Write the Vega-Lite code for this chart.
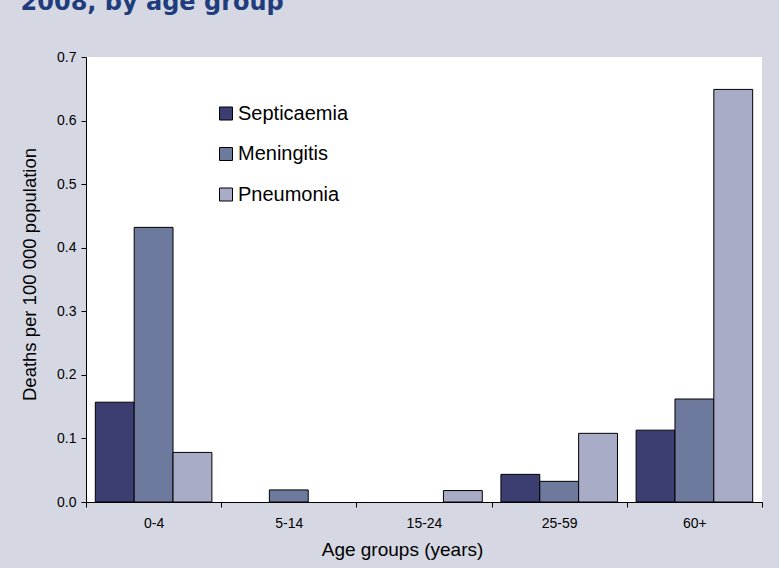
{
  "$schema": "https://vega.github.io/schema/vega-lite/v6.json",
  "width": 676,
  "height": 445,
  "autosize": {"type": "none"},
  "padding": {"left": 86, "top": 57, "right": 17, "bottom": 66},
  "background": "#D5D7E3",
  "title": {
    "text": "2008, by age group",
    "font": "DejaVu Sans",
    "fontWeight": "bold",
    "fontSize": 24,
    "color": "#1F3C7D",
    "anchor": "start",
    "frame": "bounds",
    "baseline": "alphabetic",
    "offset": 16
  },
  "data": {
    "values": [
      {"age": "0-4", "cause": "Septicaemia", "rate": 0.157},
      {"age": "0-4", "cause": "Meningitis", "rate": 0.432},
      {"age": "0-4", "cause": "Pneumonia", "rate": 0.078},
      {"age": "5-14", "cause": "Meningitis", "rate": 0.019},
      {"age": "15-24", "cause": "Pneumonia", "rate": 0.018},
      {"age": "25-59", "cause": "Septicaemia", "rate": 0.0435},
      {"age": "25-59", "cause": "Meningitis", "rate": 0.0325},
      {"age": "25-59", "cause": "Pneumonia", "rate": 0.108},
      {"age": "60+", "cause": "Septicaemia", "rate": 0.113},
      {"age": "60+", "cause": "Meningitis", "rate": 0.162},
      {"age": "60+", "cause": "Pneumonia", "rate": 0.649}
    ]
  },
  "mark": {"type": "bar", "stroke": "black", "strokeWidth": 1},
  "encoding": {
    "x": {
      "field": "age",
      "type": "nominal",
      "sort": ["0-4", "5-14", "15-24", "25-59", "60+"],
      "scale": {"paddingInner": 0, "paddingOuter": 0},
      "axis": {
        "title": "Age groups (years)",
        "labelAngle": 0,
        "tickBand": "extent",
        "labelFontSize": 14,
        "labelFont": "Liberation Sans",
        "labelColor": "black",
        "labelPadding": 9,
        "titleFont": "Liberation Sans",
        "titleFontSize": 19,
        "titleFontWeight": "normal",
        "titleColor": "black",
        "titlePadding": 10,
        "titleX": 316,
        "titleAlign": "center",
        "domainColor": "black",
        "tickColor": "black",
        "tickSize": 5
      }
    },
    "xOffset": {
      "field": "cause",
      "type": "nominal",
      "sort": ["Septicaemia", "Meningitis", "Pneumonia"],
      "scale": {"domain": ["Septicaemia", "Meningitis", "Pneumonia"], "paddingInner": 0, "paddingOuter": 0.24}
    },
    "y": {
      "field": "rate",
      "type": "quantitative",
      "scale": {"domain": [0, 0.7], "nice": false},
      "axis": {
        "title": "Deaths per 100 000 population",
        "values": [0, 0.1, 0.2, 0.3, 0.4, 0.5, 0.6, 0.7],
        "format": ".1f",
        "grid": false,
        "labelFontSize": 14,
        "labelFont": "Liberation Sans",
        "labelColor": "black",
        "labelPadding": 5,
        "titleFont": "Liberation Sans",
        "titleFontSize": 18.5,
        "titleFontWeight": "normal",
        "titleColor": "black",
        "titlePadding": 17,
        "titleY": 217,
        "titleAlign": "center",
        "domainColor": "black",
        "tickColor": "black",
        "tickSize": 5
      }
    },
    "color": {
      "field": "cause",
      "type": "nominal",
      "scale": {
        "domain": ["Septicaemia", "Meningitis", "Pneumonia"],
        "range": ["#3C3E72", "#6D7A9D", "#A8ACC7"]
      },
      "legend": {
        "title": null,
        "orient": "none",
        "legendX": 130,
        "legendY": 46.5,
        "symbolType": "square",
        "symbolSize": 169,
        "symbolStrokeColor": "black",
        "symbolStrokeWidth": 1,
        "labelFont": "Liberation Sans",
        "labelFontSize": 20,
        "labelColor": "black",
        "labelOffset": 2,
        "rowPadding": 20.5
      }
    }
  },
  "config": {
    "view": {"fill": "white", "stroke": null}
  }
}
